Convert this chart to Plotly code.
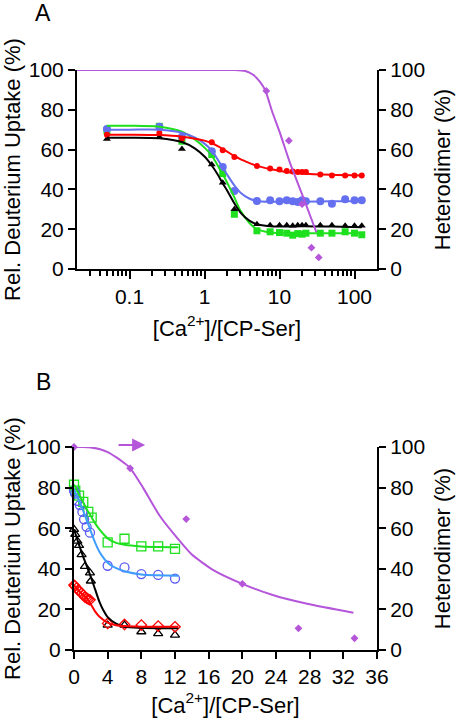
import plotly.graph_objects as go

W, H = 460, 721

# ---------------- Panel A data (log x) ----------------
xA = [0.05, 0.25, 0.5, 1.25, 1.75, 2.5, 5, 7.5, 10, 12.5, 15, 17.5, 20, 22.5, 35, 50, 75, 100, 125]
redA = [67.5, 68.3, 65.5, 63.7, 59.7, 56.3, 51.7, 50.5, 50, 49.3, 49, 48.8, 48.8, 48.8, 47.5, 47, 47, 47, 47]
blueA = [70.3, 71.5, 66.5, 59.2, 51.2, 39.2, 34.2, 34.5, 34, 34.5, 34, 33.7, 34.5, 34, 34, 32.8, 35, 34.5, 34.5]
greenA = [69.5, 71.7, 64.2, 57.5, 48, 27.5, 19.2, 18.7, 18.3, 18, 17, 17.8, 17.5, 18, 18, 18, 18.7, 18, 17.2]
blackA = [65.3, 66.3, 60.3, 52.5, 43.3, 30, 22.5, 22, 22, 22, 21.7, 22, 22, 22, 22, 22, 21.7, 21.7, 21.7]

fitxA = [0.05, 0.1, 0.25, 0.5, 0.75, 1.0, 1.25, 1.5, 1.75, 2.0, 2.5, 3.0, 4.0, 5.0, 7.5, 10, 20, 50, 125]
fit_redA = [67.5, 67.5, 67.3, 66.5, 65.5, 64.5, 63.3, 61.8, 60.3, 59, 56.8, 55.2, 53.2, 51.8, 50.2, 49.3, 48, 47.3, 47]
fit_blueA = [70, 70, 70, 68.5, 66, 63, 59.5, 55, 51, 47.5, 42, 38.5, 35.3, 34.2, 33.8, 33.8, 33.8, 34, 34]
fit_greenA = [72, 72, 71.5, 69, 65, 61, 57, 52, 47.5, 43.5, 36, 29.5, 23, 20, 18.3, 18, 18, 18, 18]
fit_blackA = [66, 66, 65.7, 63.8, 60.5, 56.5, 52, 47.5, 43, 39.5, 33, 28.5, 24.2, 22.5, 21.5, 21.3, 21.5, 21.3, 21]

# heterodimer (shared by both panels)
x_het = [0, 6.67, 13.33, 20, 26.67, 33.33]
y_het = [100, 89.5, 64.5, 32.6, 10.7, 5.8]

fitx_hetA = [0.02, 1, 2.5, 3.5, 4.5, 5.5, 6.5, 7, 8, 10, 13.6, 16, 20, 26.4, 31]
fity_hetA = [100, 100, 100, 99.5, 97.5, 94, 89.5, 86, 79, 69, 54, 47, 37.5, 25.5, 18.5]

# ---------------- Panel B data (linear x) ----------------
x_greenB = [0, 0.15, 0.6, 1.1, 1.7, 2.1, 4, 6, 8, 10, 12]
greenB = [81.4, 78.5, 76, 73, 68, 65.2, 53, 54.8, 51, 51, 49.8]
x_blueB = [0, 0.15, 0.4, 0.7, 1.0, 1.2, 1.5, 1.9, 4, 6, 8, 10, 12]
blueB = [78.4, 77, 73.5, 71.4, 68, 64.4, 60.7, 57.8, 41.5, 40.7, 37.4, 37, 35.2]
x_blackB = [0, 0.15, 0.4, 0.6, 0.9, 1.3, 1.9, 2.0, 4, 6, 8, 10, 12]
blackB = [59.4, 57, 53.6, 51.5, 47, 41.2, 38, 34, 12.3, 12.3, 9, 8.1, 7.3]
x_redB = [0, 0.1, 0.3, 0.5, 0.7, 0.9, 1.1, 1.3, 1.5, 1.7, 1.9, 4, 6, 8, 10, 12]
redB = [32, 31.5, 30.5, 29.5, 28.8, 28, 27.1, 26, 25.5, 25, 24.7, 13.1, 12.6, 12.3, 11.8, 11.4]

fitxB = [0, 0.5, 1, 1.5, 2, 2.5, 3, 4, 5, 6, 8, 10, 12.4]
fit_greenB = [81.5, 77.5, 73.5, 69.5, 66, 62.5, 59.5, 55, 52.8, 51.8, 51, 50.7, 50.6]
fit_blueB = [79, 74.5, 69.5, 64, 58.5, 53, 48.5, 43, 40.3, 38.8, 37.2, 36.8, 36.6]
fitx_blackB = [0, 0.5, 1, 1.5, 2, 2.5, 3, 3.5, 4, 5, 6, 8, 10, 12.4]
fit_blackB = [59.5, 53, 47, 41.5, 36, 30, 24, 19.5, 16.2, 13, 11.5, 10.9, 10.7, 10.7]
fit_redB = [32, 29.5, 27.3, 25.5, 22.5, 19, 16.5, 13.5, 12.2, 11.8, 11.5, 11.4, 11.4]

fitx_hetB = [0, 1, 2, 3, 4, 5, 6, 6.7, 8.2, 10.2, 12.4, 14, 16.5, 20, 23.7, 27.7, 33.2]
fity_hetB = [100, 100, 99.8, 99, 97.5, 95, 92, 89.5, 80, 66, 54.5, 47, 39.5, 32.6, 27, 22.8, 18.4]

yticks = [0, 20, 40, 60, 80, 100]
xticksA = [0.1, 1, 10, 100]
xticksB = list(range(0, 37, 4))

RED = '#FF0000'
BLUE_A = '#6470F0'
GREEN = '#1EE01E'
BLACK = '#000000'
PURPLE = '#B455DA'
BLUE_M = '#5a5af5'
BLUE_L = '#3E9CFF'

fig = go.Figure()

def line(x, y, color, xa, ya, w=2, sm=0.8):
    fig.add_trace(go.Scatter(x=x, y=y, mode='lines', line=dict(color=color, width=w, shape='spline', smoothing=sm),
                             xaxis=xa, yaxis=ya, showlegend=False, cliponaxis=False, hoverinfo='skip'))

def pts(x, y, color, sym, size, xa, ya, open_=False):
    if open_:
        m = dict(symbol=sym + '-open', size=size, color=color, line=dict(color=color, width=1.3))
    else:
        m = dict(symbol=sym, size=size, color=color, line=dict(width=0))
    fig.add_trace(go.Scatter(x=x, y=y, mode='markers', marker=m, xaxis=xa, yaxis=ya,
                             showlegend=False, cliponaxis=False))

# Panel A
pts(xA, greenA, GREEN, 'square', 7, 'x', 'y')
pts(xA, blueA, BLUE_A, 'circle', 8, 'x', 'y')
pts(xA, blackA, BLACK, 'triangle-up', 7, 'x', 'y')
pts(xA, redA, RED, 'circle', 6, 'x', 'y')
line(fitxA, fit_greenA, GREEN, 'x', 'y')
line(fitxA, fit_blueA, BLUE_A, 'x', 'y')
line(fitxA, fit_blackA, BLACK, 'x', 'y')
line(fitxA, fit_redA, RED, 'x', 'y')
hx = [v for v in x_het if v > 0]
hy = [y_het[i] for i, v in enumerate(x_het) if v > 0]
line(fitx_hetA, fity_hetA, PURPLE, 'x', 'y2', sm=0.6)
pts(hx, hy, PURPLE, 'diamond', 6, 'x', 'y2')

# Panel B
pts(x_greenB, greenB, GREEN, 'square', 9, 'x2', 'y3', True)
pts(x_blueB, blueB, BLUE_M, 'circle', 9, 'x2', 'y3', True)
pts(x_blackB, blackB, BLACK, 'triangle-up', 8, 'x2', 'y3', True)
pts(x_redB, redB, RED, 'diamond', 8, 'x2', 'y3', True)
line(fitxB, fit_greenB, GREEN, 'x2', 'y3')
line(fitxB, fit_blueB, BLUE_L, 'x2', 'y3')
line(fitx_blackB, fit_blackB, BLACK, 'x2', 'y3')
line(fitxB, fit_redB, RED, 'x2', 'y3')
line(fitx_hetB, fity_hetB, PURPLE, 'x2', 'y4', sm=0.6)
pts(x_het, y_het, PURPLE, 'diamond', 6, 'x2', 'y4')

FONT = 'Liberation Sans, Arial, sans-serif'
tickf = dict(family=FONT, size=21, color='black')
titf = dict(family=FONT, size=22, color='black')

axis_common = dict(showline=True, linecolor='black', linewidth=2, ticks='outside', ticklen=7,
                   tickwidth=2, tickcolor='black', showgrid=False, zeroline=False, tickfont=tickf,
                   automargin=False)

xA_dom = [77 / W, 377 / W]
xB_dom = [74 / W, 377 / W]
yA_dom = [1 - 269 / H, 1 - 70 / H]
yB_dom = [1 - 650 / H, 1 - 447 / H]

minorA = [m * 10 ** e for e in (-2, -1, 0, 1, 2) for m in range(2, 10) if 0.02 < m * 10 ** e < 200]

xlab = '[Ca<sup>2+</sup>]/[CP-Ser]'
ylab = 'Rel. Deuterium Uptake (%)'
rlab = 'Heterodimer (%)'

fig.update_layout(
    width=W, height=H, margin=dict(l=0, r=0, t=0, b=0),
    paper_bgcolor='white', plot_bgcolor='white', showlegend=False,
    font=dict(family=FONT, color='black'),
    xaxis=dict(axis_common, type='log', range=[-1.7, 2.3], domain=xA_dom, anchor='y',
               tickvals=xticksA, ticktext=['0.1', '1', '10', '100'], ticklen=8,
               minor=dict(tickvals=minorA, ticks='outside', ticklen=5, tickwidth=1.5, tickcolor='black'),
               title=dict(text=xlab, font=titf, standoff=13)),
    yaxis=dict(axis_common, range=[0, 100], domain=yA_dom, anchor='x', tickvals=yticks,
               title=dict(text=ylab, font=titf, standoff=5)),
    yaxis2=dict(axis_common, range=[0, 100], overlaying='y', side='right', anchor='x', tickvals=yticks,
                title=dict(text=rlab, font=titf, standoff=10)),
    xaxis2=dict(axis_common, range=[0, 36], domain=xB_dom, anchor='y3', tickvals=xticksB,
                title=dict(text=xlab, font=titf, standoff=10)),
    yaxis3=dict(axis_common, range=[0, 100], domain=yB_dom, anchor='x2', tickvals=yticks,
                title=dict(text=ylab, font=titf, standoff=5)),
    yaxis4=dict(axis_common, range=[0, 100], overlaying='y3', side='right', anchor='x2', tickvals=yticks,
                title=dict(text=rlab, font=titf, standoff=10)),
    annotations=[
        dict(text='A', x=43 / W, y=1 - 13 / H, xref='paper', yref='paper', showarrow=False,
             font=dict(family=FONT, size=23, color='black'), xanchor='center', yanchor='middle',
             borderpad=0),
        dict(text='B', x=43 / W, y=1 - 382 / H, xref='paper', yref='paper', showarrow=False,
             font=dict(family=FONT, size=23, color='black'), xanchor='center', yanchor='middle',
             borderpad=0),
        dict(text='', x=8.45, y=1 - 445 / H, xref='x2', yref='paper', ax=-28, ay=0,
             showarrow=True, arrowhead=2, arrowsize=1.3, arrowwidth=2, arrowcolor=PURPLE),
    ],
)

fig.write_html('out.html', config={'displayModeBar': False},
               post_script="document.body.style.margin='0';document.body.style.padding='0';")
